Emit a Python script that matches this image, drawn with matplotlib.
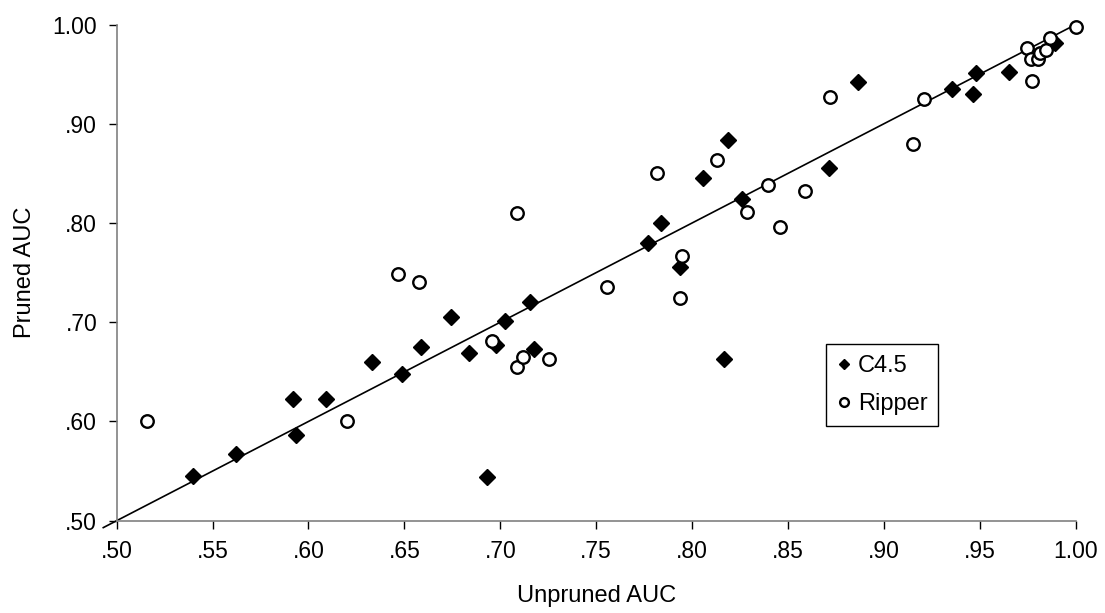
import matplotlib
matplotlib.use("Agg")
import matplotlib.pyplot as plt

plt.rcParams['font.family'] = ['Liberation Sans', 'DejaVu Sans']

# C4.5 (unpruned AUC, pruned AUC)
c45_unpruned = [0.540, 0.562, 0.592, 0.5935, 0.609, 0.633, 0.649, 0.6585, 0.6745, 0.6837,
                0.693, 0.6978, 0.7025, 0.7155, 0.7177, 0.7768, 0.7838, 0.7937, 0.8059, 0.8168,
                0.8189, 0.8259, 0.8712, 0.8863, 0.9353, 0.9463, 0.9480, 0.9652, 0.9892]
c45_pruned = [0.545, 0.567, 0.623, 0.586, 0.623, 0.660, 0.648, 0.6755, 0.7057, 0.6689,
              0.544, 0.6772, 0.7014, 0.7202, 0.6732, 0.7803, 0.8004, 0.7561, 0.8457, 0.6628,
              0.8837, 0.8241, 0.8550, 0.9418, 0.9350, 0.9297, 0.9508, 0.9525, 0.9815]

# Ripper
rip_unpruned = [0.516, 0.620, 0.6465, 0.6575, 0.6955, 0.7086, 0.7086, 0.7117, 0.7255, 0.7556,
                0.7816, 0.7947, 0.7937, 0.8128, 0.8288, 0.8397, 0.8458, 0.8590, 0.8719, 0.9153,
                0.9211, 0.9745, 0.9765, 0.9772, 0.9803, 0.9812, 0.9843, 0.9866, 1.000]
rip_pruned = [0.600, 0.600, 0.7484, 0.7404, 0.6806, 0.8099, 0.6548, 0.6648, 0.6628, 0.7350,
              0.8505, 0.7669, 0.7249, 0.8638, 0.8115, 0.8384, 0.7964, 0.8320, 0.9273, 0.8793,
              0.9250, 0.9760, 0.9650, 0.9432, 0.9655, 0.9713, 0.9740, 0.9868, 0.998]

# diagonal reference line
diag = [0.493, 1.0]

xticks = [0.50, 0.55, 0.60, 0.65, 0.70, 0.75, 0.80, 0.85, 0.90, 0.95, 1.00]
xlabels = ['.50', '.55', '.60', '.65', '.70', '.75', '.80', '.85', '.90', '.95', '1.00']
yticks = [0.50, 0.60, 0.70, 0.80, 0.90, 1.00]
ylabels = ['.50', '.60', '.70', '.80', '.90', '1.00']

fig = plt.figure(figsize=(11.05, 6.13), dpi=100)
ax = fig.add_axes([0.1056, 0.1506, 0.8679, 0.8094])

ax.plot(diag, diag, color='black', lw=1.2, clip_on=False, zorder=2)
ax.plot(c45_unpruned, c45_pruned, 'D', color='black', ms=8, clip_on=False,
        zorder=3, label='C4.5')
ax.plot(rip_unpruned, rip_pruned, 'o', mfc='white', mec='black', mew=1.7, ms=9,
        clip_on=False, zorder=3, label='Ripper')

ax.set_xlim(0.5, 1.0)
ax.set_ylim(0.5, 1.0)
ax.set_xticks(xticks)
ax.set_xticklabels(xlabels)
ax.set_yticks(yticks)
ax.set_yticklabels(ylabels)
ax.tick_params(direction='out', length=6, width=1, labelsize=16.5, pad=8)

for s in ['top', 'right']:
    ax.spines[s].set_visible(False)
for s in ['left', 'bottom']:
    ax.spines[s].set_color('#808080')
    ax.spines[s].set_linewidth(1.2)

ax.set_xlabel('Unpruned AUC', fontsize=17, labelpad=16)
ax.set_ylabel('Pruned AUC', fontsize=17, labelpad=12)

leg = ax.legend(loc='upper left', bbox_to_anchor=(0.740, 0.3555), fontsize=17,
                markerscale=0.7, handlelength=0.6, handletextpad=0.3,
                borderpad=0.45, labelspacing=0.7, borderaxespad=0,
                fancybox=False, framealpha=1)
leg.get_frame().set_edgecolor('black')
leg.get_frame().set_linewidth(1)

fig.savefig('out.png', dpi=100)
